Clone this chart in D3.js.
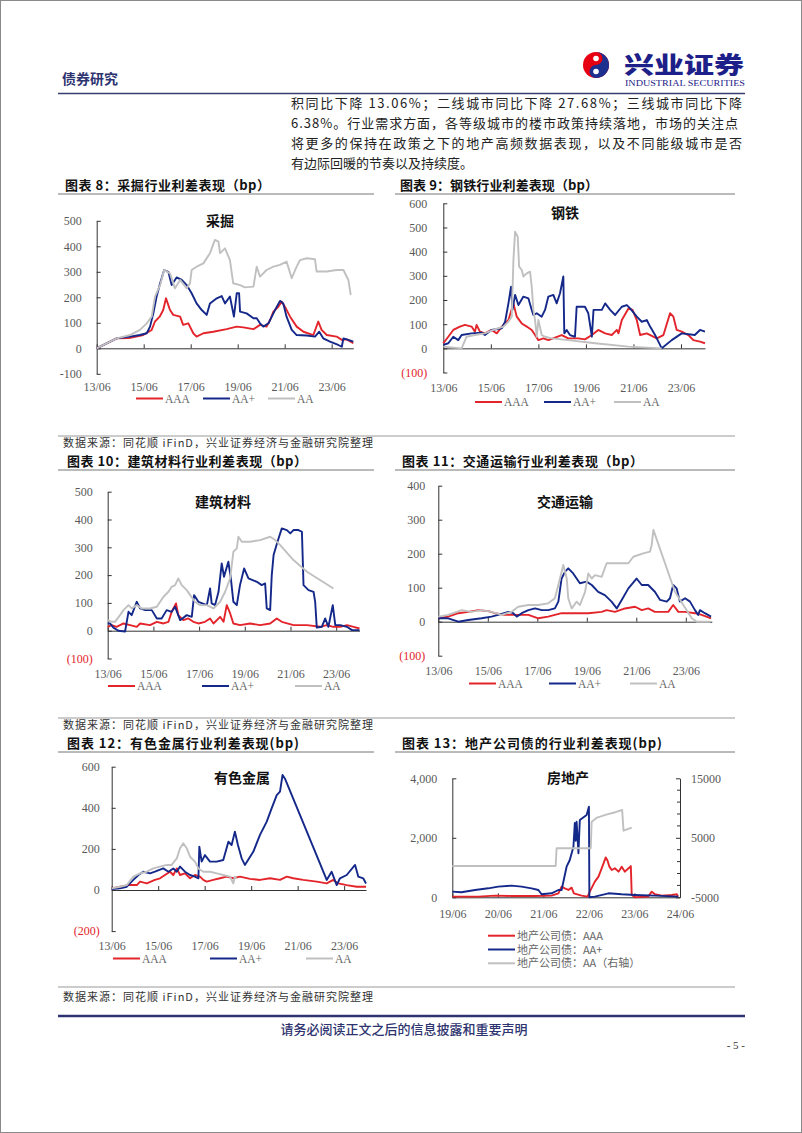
<!DOCTYPE html>
<html>
<head>
<meta charset="utf-8">
<script src="https://cdn.jsdelivr.net/npm/d3@7"></script>
<style>
  body { margin: 0; background: #fff; }
</style>
</head>
<body>
<script>
// ---- data: [decimal year, bp] ----
const xTicksA = [2013.42, 2015.42, 2017.42, 2019.42, 2021.42, 2023.42];
const xLabelsA = ["13/06", "15/06", "17/06", "19/06", "21/06", "23/06"];
const xTicksB = [2019.42, 2020.42, 2021.42, 2022.42, 2023.42, 2024.42];
const xLabelsB = ["19/06", "20/06", "21/06", "22/06", "23/06", "24/06"];
const seriesNames = ["AAA", "AA+", "AA"];
const seriesNames13 = ["地产公司债：AAA", "地产公司债：AA+", "地产公司债：AA（右轴）"];

// 采掘
const caijueAAA = [[2013.42,0],[2014.27,39],[2014.8,40],[2015.4,52],[2015.76,72],[2015.9,105],[2016.1,124],[2016.25,150],[2016.37,196],[2016.54,150],[2016.68,131],[2016.97,124],[2017.1,92],[2017.32,98],[2017.53,59],[2017.67,46],[2017.96,59],[2018.38,65],[2018.95,75],[2019.38,85],[2019.66,82],[2020.09,75],[2020.37,92],[2020.65,85],[2020.8,111],[2020.94,144],[2021.15,163],[2021.29,183],[2021.43,163],[2021.65,124],[2021.93,85],[2022.22,65],[2022.64,52],[2022.85,105],[2022.99,72],[2023.21,52],[2023.63,46],[2023.85,33],[2024.06,35],[2024.34,20]];
const caijueAAp = [[2013.42,0],[2014.27,39],[2014.84,46],[2015.26,52],[2015.55,59],[2015.69,85],[2015.83,137],[2015.97,203],[2016.12,255],[2016.29,307],[2016.47,300],[2016.61,248],[2016.82,278],[2017.04,268],[2017.25,248],[2017.46,216],[2017.67,176],[2017.89,150],[2018.1,131],[2018.24,176],[2018.53,196],[2018.74,205],[2018.88,176],[2019.09,203],[2019.26,124],[2019.38,216],[2019.48,216],[2019.52,144],[2019.8,137],[2020.09,118],[2020.23,118],[2020.37,98],[2020.51,85],[2020.73,98],[2020.87,124],[2021.01,150],[2021.22,186],[2021.36,176],[2021.5,124],[2021.72,72],[2021.93,52],[2022.36,50],[2022.71,46],[2022.89,65],[2023.06,39],[2023.35,26],[2023.7,13],[2023.85,6],[2023.92,39],[2024.13,33],[2024.34,26]];
const caijueAA = [[2013.42,0],[2014.27,39],[2014.84,52],[2015.26,72],[2015.55,98],[2015.76,124],[2015.9,203],[2016.12,248],[2016.29,307],[2016.54,294],[2016.75,235],[2016.97,268],[2017.25,235],[2017.39,255],[2017.46,307],[2017.67,320],[2017.96,333],[2018.24,373],[2018.45,425],[2018.6,418],[2018.67,373],[2018.88,392],[2019.09,346],[2019.23,255],[2019.52,248],[2019.73,239],[2020.09,242],[2020.23,320],[2020.37,281],[2020.65,307],[2020.94,320],[2021.22,327],[2021.5,340],[2021.72,275],[2021.93,320],[2022.07,346],[2022.36,353],[2022.71,349],[2022.78,301],[2023.21,301],[2023.63,307],[2023.92,307],[2024.13,268],[2024.23,209]];

// 钢铁
const gangtieAAA = [[2013.42,21],[2013.63,48],[2013.84,76],[2014.12,90],[2014.33,97],[2014.61,90],[2014.75,69],[2014.82,97],[2014.96,69],[2015.17,62],[2015.45,76],[2015.67,62],[2015.88,90],[2016.16,117],[2016.37,186],[2016.51,131],[2016.72,103],[2016.93,90],[2017.14,76],[2017.28,55],[2017.42,34],[2017.63,41],[2017.84,34],[2018.4,55],[2018.68,41],[2019.1,41],[2019.38,37],[2019.67,55],[2019.94,76],[2020.23,62],[2020.51,55],[2020.72,76],[2020.79,62],[2020.93,117],[2021.21,165],[2021.38,159],[2021.56,117],[2021.7,55],[2021.98,62],[2022.4,41],[2022.68,55],[2022.96,145],[2023.1,131],[2023.24,76],[2023.45,69],[2023.73,55],[2023.94,34],[2024.22,28],[2024.43,21]];
const gangtieAAp = [[2013.42,14],[2013.63,21],[2013.84,48],[2014.05,34],[2014.19,55],[2014.61,62],[2015.03,65],[2015.17,55],[2015.45,76],[2015.88,83],[2016.02,110],[2016.16,186],[2016.27,255],[2016.33,159],[2016.44,221],[2016.58,179],[2016.79,214],[2017.0,207],[2017.14,159],[2017.21,138],[2017.35,145],[2017.56,131],[2017.7,159],[2017.84,214],[2018.05,221],[2018.19,186],[2018.33,228],[2018.47,297],[2018.51,62],[2018.61,76],[2018.75,55],[2018.96,48],[2019.03,172],[2019.38,172],[2019.52,145],[2019.67,48],[2019.74,159],[2020.09,159],[2020.23,186],[2020.44,159],[2020.65,138],[2020.93,172],[2021.14,179],[2021.28,165],[2021.56,131],[2021.77,110],[2021.98,117],[2022.12,90],[2022.33,55],[2022.47,28],[2022.61,0],[2023.03,34],[2023.45,62],[2024.0,55],[2024.22,76],[2024.43,69]];
const gangtieAA = [[2013.42,7],[2014.19,0],[2014.4,48],[2014.75,55],[2015.17,62],[2015.6,79],[2015.95,90],[2016.16,110],[2016.3,131],[2016.37,365],[2016.44,483],[2016.55,462],[2016.61,338],[2016.72,324],[2016.79,297],[2016.93,310],[2017.07,317],[2017.14,255],[2017.21,159],[2017.28,117],[2017.35,48],[2017.42,117],[2017.56,55],[2017.7,48],[2017.98,41],[2018.4,37],[2019.81,21],[2021.21,7],[2022.61,0]];

// 建筑材料
const jiancaiAAA = [[2013.42,14],[2013.6,20],[2013.81,14],[2014.11,26],[2014.4,20],[2014.69,14],[2014.84,26],[2015.27,20],[2015.57,32],[2015.86,26],[2016.08,32],[2016.22,68],[2016.41,98],[2016.51,56],[2016.73,38],[2016.95,44],[2017.17,32],[2017.39,26],[2017.68,32],[2017.9,44],[2018.05,26],[2018.34,50],[2018.49,32],[2018.63,92],[2018.78,62],[2018.92,26],[2019.21,20],[2019.65,26],[2020.09,20],[2020.53,26],[2020.82,44],[2021.04,32],[2021.55,20],[2022.14,20],[2022.72,14],[2023.01,20],[2023.3,14],[2023.6,14],[2023.89,20],[2024.18,14],[2024.44,8]];
const jiancaiAAp = [[2013.42,26],[2013.52,26],[2013.67,11],[2013.89,0],[2014.18,-3],[2014.33,68],[2014.47,56],[2014.69,104],[2014.84,80],[2015.06,74],[2015.35,74],[2015.57,44],[2015.78,44],[2016.0,74],[2016.22,68],[2016.37,86],[2016.59,38],[2016.88,56],[2017.1,50],[2017.2,128],[2017.39,104],[2017.76,92],[2017.9,152],[2017.97,98],[2018.12,92],[2018.27,140],[2018.41,242],[2018.51,194],[2018.7,248],[2018.81,188],[2018.92,104],[2019.07,92],[2019.21,164],[2019.39,224],[2019.58,188],[2019.95,176],[2020.16,164],[2020.31,170],[2020.38,80],[2020.53,74],[2020.6,200],[2020.68,272],[2020.85,320],[2021.04,368],[2021.26,362],[2021.41,350],[2021.55,362],[2021.77,362],[2021.92,356],[2021.99,164],[2022.21,146],[2022.43,140],[2022.5,104],[2022.57,11],[2022.79,14],[2022.94,44],[2023.08,14],[2023.27,92],[2023.38,20],[2023.6,20],[2023.89,14],[2024.11,2],[2024.44,2]];
const jiancaiAA = [[2013.42,38],[2013.6,32],[2013.74,32],[2013.96,56],[2014.11,74],[2014.33,92],[2014.47,80],[2014.69,92],[2014.91,80],[2015.27,80],[2015.57,86],[2015.86,122],[2016.08,140],[2016.22,158],[2016.37,164],[2016.51,188],[2016.66,164],[2016.88,146],[2017.03,128],[2017.24,104],[2017.46,92],[2017.76,92],[2018.05,80],[2018.34,104],[2018.56,140],[2018.78,188],[2018.92,284],[2019.07,296],[2019.14,338],[2019.29,320],[2019.65,320],[2020.09,326],[2020.53,338],[2020.75,326],[2020.97,308],[2021.55,254],[2022.14,212],[2023.3,152]];

// 交通运输
const jiaotongAAA = [[2013.42,10],[2013.82,15],[2014.23,25],[2014.63,29],[2015.04,34],[2015.44,31],[2015.71,25],[2016.11,20],[2016.65,20],[2017.06,20],[2017.46,10],[2017.86,15],[2018.4,25],[2018.94,25],[2019.48,25],[2020.02,29],[2020.22,34],[2020.56,29],[2020.96,39],[2021.37,44],[2021.64,34],[2021.9,39],[2022.17,29],[2022.71,29],[2022.91,49],[2023.12,29],[2023.39,29],[2023.79,25],[2024.06,20],[2024.44,10]];
const jiaotongAAp = [[2013.42,10],[2013.82,10],[2014.23,0],[2014.63,5],[2015.17,10],[2015.57,15],[2015.84,20],[2016.25,29],[2016.45,25],[2016.59,15],[2016.79,25],[2017.06,34],[2017.33,39],[2017.6,34],[2017.86,34],[2018.13,39],[2018.27,59],[2018.4,127],[2018.54,147],[2018.67,157],[2018.87,142],[2019.14,113],[2019.41,118],[2019.62,108],[2019.88,88],[2020.15,78],[2020.42,59],[2020.63,39],[2020.83,64],[2021.1,98],[2021.43,127],[2021.64,108],[2021.9,108],[2022.17,88],[2022.38,64],[2022.65,59],[2022.78,69],[2022.91,108],[2023.05,98],[2023.18,59],[2023.39,69],[2023.59,59],[2023.79,34],[2023.92,20],[2023.99,34],[2024.19,25],[2024.44,15]];
const jiaotongAA = [[2013.42,15],[2013.82,20],[2014.36,34],[2014.77,29],[2015.17,34],[2015.57,29],[2015.98,20],[2016.38,29],[2016.65,44],[2017.06,49],[2017.46,49],[2017.86,54],[2018.13,69],[2018.27,108],[2018.47,167],[2018.61,127],[2018.67,69],[2018.81,39],[2019.01,59],[2019.14,49],[2019.35,88],[2019.48,142],[2019.62,127],[2019.75,137],[2020.02,132],[2020.22,172],[2020.69,172],[2021.1,172],[2021.3,191],[2021.7,201],[2021.97,206],[2022.04,225],[2022.11,270],[2022.98,88],[2023.66,10],[2023.86,0],[2024.4,0]];

// 有色金属
const youseAAA = [[2013.42,8],[2013.78,16],[2014.14,24],[2014.5,24],[2014.64,41],[2014.93,32],[2015.28,49],[2015.5,57],[2015.71,73],[2015.93,89],[2016.07,73],[2016.22,105],[2016.36,73],[2016.57,81],[2016.79,57],[2017.0,73],[2017.22,65],[2017.36,49],[2017.51,41],[2017.79,49],[2018.08,57],[2018.37,65],[2018.65,57],[2018.94,65],[2019.37,54],[2019.8,49],[2020.23,57],[2020.66,49],[2020.95,65],[2021.23,57],[2021.66,49],[2022.24,41],[2022.67,32],[2022.95,49],[2023.17,32],[2023.53,24],[2023.96,16],[2024.36,16]];
const youseAAp = [[2013.42,5],[2013.78,8],[2014.07,16],[2014.35,49],[2014.57,73],[2014.78,89],[2015.07,81],[2015.28,89],[2015.64,105],[2015.86,89],[2016.07,105],[2016.22,89],[2016.36,114],[2016.57,89],[2016.79,73],[2017.0,65],[2017.15,57],[2017.19,211],[2017.29,138],[2017.43,170],[2017.65,138],[2017.94,138],[2018.22,146],[2018.44,235],[2018.58,219],[2018.72,284],[2018.85,219],[2019.01,154],[2019.15,122],[2019.51,186],[2019.8,268],[2020.09,333],[2020.3,397],[2020.52,462],[2020.66,479],[2020.77,560],[2020.87,543],[2022.67,49],[2022.88,89],[2023.1,24],[2023.24,57],[2023.53,73],[2023.89,122],[2024.03,65],[2024.24,57],[2024.36,32]];
const youseAA = [[2013.42,8],[2013.78,16],[2014.07,24],[2014.35,65],[2014.64,81],[2014.93,89],[2015.21,105],[2015.5,114],[2015.79,122],[2016.0,122],[2016.22,154],[2016.36,203],[2016.5,227],[2016.65,203],[2016.79,162],[2017.0,138],[2017.15,105],[2017.36,89],[2017.65,89],[2017.94,81],[2018.22,73],[2018.51,65],[2018.65,32],[2018.72,65],[2018.78,57]];

// 房地产 (AA on right axis)
const dichanAAA = [[2019.42,22],[2019.99,22],[2020.36,56],[2020.72,45],[2021.24,45],[2021.6,56],[2021.75,134],[2021.82,358],[2021.89,302],[2021.97,246],[2022.04,325],[2022.09,134],[2022.26,56],[2022.39,22],[2022.44,190],[2022.55,526],[2022.63,694],[2022.7,974],[2022.79,1340],[2022.83,1230],[2022.87,1030],[2022.92,918],[2022.99,974],[2023.07,862],[2023.14,1030],[2023.21,862],[2023.29,974],[2023.34,1050],[2023.36,78],[2023.43,0],[2023.72,22],[2023.8,190],[2023.87,101],[2024.02,56],[2024.24,78],[2024.35,101],[2024.38,22]];
const dichanAAp = [[2019.42,190],[2019.62,168],[2019.92,246],[2020.21,302],[2020.43,358],[2020.72,392],[2020.94,358],[2021.16,302],[2021.31,246],[2021.38,101],[2021.6,134],[2021.75,246],[2021.82,246],[2021.93,1029],[2022.0,1254],[2022.08,1700],[2022.11,2497],[2022.13,1900],[2022.15,2541],[2022.19,1479],[2022.22,2598],[2022.37,2766],[2022.42,3045],[2022.43,0],[2022.55,22],[2022.85,134],[2023.14,101],[2023.43,78],[2023.87,56],[2024.38,22]];
const dichanAA = [[2019.42,261],[2021.69,261],[2021.71,3235],[2022.46,3235],[2022.48,7706],[2022.6,8400],[2022.8,8900],[2023.0,9300],[2023.15,9672],[2023.18,6193],[2023.36,6698]];

const yTicks8 = [-100, 0, 100, 200, 300, 400, 500];
const yLabels8 = ["-100", "0", "100", "200", "300", "400", "500"];
const yTicks9 = [-100, 0, 100, 200, 300, 400, 500, 600];
const yLabels9 = ["(100)", "0", "100", "200", "300", "400", "500", "600"];
const yTicks10 = [-100, 0, 100, 200, 300, 400, 500];
const yLabels10 = ["(100)", "0", "100", "200", "300", "400", "500"];
const yTicks11 = [-100, 0, 100, 200, 300, 400];
const yLabels11 = ["(100)", "0", "100", "200", "300", "400"];
const yTicks12 = [-200, 0, 200, 400, 600];
const yLabels12 = ["(200)", "0", "200", "400", "600"];
const yTicks13L = [0, 2000, 4000];
const yLabels13L = ["0", "2,000", "4,000"];
const yTicks13R = [-5000, 5000, 15000];
const yLabels13R = ["-5000", "5000", "15000"];
const yMinor13R = [-3000, -1000, 1000, 3000, 7000, 9000, 11000, 13000];

const paragraph = [
  "积同比下降 13.06%；二线城市同比下降 27.68%；三线城市同比下降",
  "6.38%。行业需求方面，各等级城市的楼市政策持续落地，市场的关注点",
  "将更多的保持在政策之下的地产高频数据表现，以及不同能级城市是否",
  "有边际回暖的节奏以及持续度。"
];

// ---- drawing ----
const RED = "#e3242b", NAVY = "#14288a", GRAY = "#c0c0c0";
const colors = [RED, NAVY, GRAY];
const CJK = "'Noto Sans CJK SC', sans-serif";
const SERIF = "'Liberation Serif', 'Times New Roman', serif";

const svg = d3.select("body").append("svg")
    .attr("width", 802)
    .attr("height", 1133)
    .style("display", "block");

svg.append("rect")
    .attr("x", 0.5).attr("y", 0.5)
    .attr("width", 801).attr("height", 1132)
    .attr("fill", "#fff").attr("stroke", "#8a8a8a");

// header
svg.append("text").attr("x", 62).attr("y", 84)
    .attr("font-family", CJK).attr("font-weight", 700).attr("font-size", 14)
    .attr("fill", "#2e3470").text("债券研究");

var logo = svg.append("g");
logo.append("circle").attr("cx", 596).attr("cy", 65).attr("r", 13).attr("fill", "#e60012");
logo.append("path")
    .attr("d", "M596,52 A13,13 0 0,1 596,78 A6.5,6.5 0 0,1 596,65 A6.5,6.5 0 0,0 596,52 Z")
    .attr("fill", "#1d2f8f");
logo.append("circle").attr("cx", 596).attr("cy", 58.5).attr("r", 2.8).attr("fill", "#fff");
logo.append("circle").attr("cx", 596).attr("cy", 71.5).attr("r", 2.8).attr("fill", "#fff");
logo.append("text").attr("x", 624).attr("y", 73)
    .attr("font-family", CJK).attr("font-weight", 900).attr("font-size", 23)
    .attr("textLength", 120).attr("lengthAdjust", "spacingAndGlyphs")
    .attr("fill", "#1d2088").text("兴业证券");
logo.append("text").attr("x", 625).attr("y", 86)
    .attr("font-family", SERIF).attr("font-size", 8.5)
    .attr("textLength", 120).attr("lengthAdjust", "spacingAndGlyphs")
    .attr("fill", "#1d2088").text("INDUSTRIAL SECURITIES");

svg.append("line").attr("x1", 58).attr("x2", 745).attr("y1", 93.5).attr("y2", 93.5)
    .attr("stroke", "#3a3d73").attr("stroke-width", 1.5);

paragraph.forEach(function(line, i) {
    var t = svg.append("text").attr("x", 291).attr("y", 108 + i * 20)
        .attr("font-family", CJK).attr("font-size", 13).attr("fill", "#222").text(line);
    if (i < 3) t.attr("textLength", i == 1 ? 447 : 451).attr("lengthAdjust", "spacing");
});

// figure captions, rules and sources
const captions = [
    {text: "图表 8：采掘行业利差表现（bp）", x: 65, y: 190, len: 205},
    {text: "图表 9：钢铁行业利差表现（bp）", x: 400, y: 190, len: 198},
    {text: "图表 10：建筑材料行业利差表现（bp）", x: 67, y: 466, len: 240},
    {text: "图表 11：交通运输行业利差表现（bp）", x: 402, y: 466, len: 241},
    {text: "图表 12：有色金属行业利差表现(bp)", x: 67, y: 748, len: 232},
    {text: "图表 13：地产公司债的行业利差表现(bp)", x: 402, y: 748, len: 260}
];
captions.forEach(function(c) {
    svg.append("text").attr("x", c.x).attr("y", c.y)
        .attr("font-family", CJK).attr("font-weight", 700).attr("font-size", 13)
        .attr("textLength", c.len).attr("lengthAdjust", "spacing")
        .attr("fill", "#111").text(c.text);
});
[194, 470, 752].forEach(function(yy) {
    svg.append("line").attr("x1", 58).attr("x2", 374).attr("y1", yy).attr("y2", yy)
        .attr("stroke", "#777").attr("stroke-width", 1);
    svg.append("line").attr("x1", 395).attr("x2", 735).attr("y1", yy).attr("y2", yy)
        .attr("stroke", "#777").attr("stroke-width", 1);
});
[[436, 447], [718, 729], [987, 1001]].forEach(function(p) {
    svg.append("line").attr("x1", 58).attr("x2", 735).attr("y1", p[0]).attr("y2", p[0])
        .attr("stroke", "#999").attr("stroke-width", 1);
    svg.append("text").attr("x", 63).attr("y", p[1])
        .attr("font-family", CJK).attr("font-size", 11).attr("fill", "#333")
        .attr("textLength", 310).attr("lengthAdjust", "spacing")
        .text("数据来源：同花顺 iFinD，兴业证券经济与金融研究院整理");
});

// footer
svg.append("line").attr("x1", 58).attr("x2", 745).attr("y1", 1016).attr("y2", 1016)
    .attr("stroke", "#2e3470").attr("stroke-width", 2.5);
svg.append("text").attr("x", 404).attr("y", 1034).attr("text-anchor", "middle")
    .attr("font-family", CJK).attr("font-weight", 500).attr("font-size", 13)
    .attr("fill", "#2e3470").text("请务必阅读正文之后的信息披露和重要声明");
svg.append("text").attr("x", 745).attr("y", 1049).attr("text-anchor", "end")
    .attr("font-family", SERIF).attr("font-size", 11).attr("fill", "#333").text("- 5 -");

function styleAxis(sel) {
    sel.select(".domain").attr("stroke", "#333");
    sel.selectAll(".tick line").attr("stroke", "#333");
    sel.selectAll(".tick text").attr("font-family", SERIF).attr("font-size", 12).attr("fill", "#595959");
}

function drawChart(c) {
    var g = svg.append("g");
    var x = d3.scaleLinear().domain(c.xDomain).range([c.left, c.right]);
    var y = d3.scaleLinear().domain(c.yDomain).range([c.bottom, c.top]);
    var y0 = y(0);

    var ya = g.append("g").attr("transform", "translate(" + c.left + ",0)")
        .call(d3.axisLeft(y).tickValues(c.yTicks)
            .tickFormat(d => c.yLabels[c.yTicks.indexOf(d)])
            .tickSize(-4).tickSizeOuter(0).tickPadding(c.yPad));
    styleAxis(ya);
    ya.selectAll(".tick text").attr("fill", d => (d < 0 && c.redNeg) ? RED : "#595959");

    var xa = g.append("g").attr("transform", "translate(0," + y0 + ")")
        .call(d3.axisBottom(x).tickValues(c.xTicks)
            .tickFormat(d => c.xLabels[c.xTicks.indexOf(d)])
            .tickSize(-4).tickSizeOuter(0));
    styleAxis(xa);
    xa.selectAll(".tick text").attr("y", c.xLabelY - y0).attr("dy", "0.3em");

    var yR = null;
    if (c.yDomainR) {
        yR = d3.scaleLinear().domain(c.yDomainR).range([c.bottom, c.top]);
        var ra = g.append("g").attr("transform", "translate(" + c.right + ",0)")
            .call(d3.axisRight(yR).tickValues(c.yTicksR)
                .tickFormat(d => c.yLabelsR[c.yTicksR.indexOf(d)])
                .tickSize(-4).tickSizeOuter(0).tickPadding(11));
        styleAxis(ra);
        g.selectAll(".minor").data(c.yMinorR).enter().append("line")
            .attr("x1", c.right - 3).attr("x2", c.right)
            .attr("y1", d => yR(d)).attr("y2", d => yR(d))
            .attr("stroke", "#333");
    }

    c.series.forEach(function(s, i) {
        var sy = (c.rightIndex === i) ? yR : y;
        var line = d3.line().x(d => x(d[0])).y(d => sy(d[1]));
        g.append("path").datum(s).attr("d", line)
            .attr("fill", "none").attr("stroke", colors[i])
            .attr("stroke-width", 1.9).attr("stroke-linejoin", "round");
    });

    g.append("text").attr("x", c.nameX).attr("y", c.nameY).attr("dy", "0.35em")
        .attr("text-anchor", "middle").attr("font-family", CJK)
        .attr("font-weight", 700).attr("font-size", 14).attr("fill", "#111")
        .text(c.name);

    c.legend.forEach(function(L, i) {
        g.append("line").attr("x1", L[0]).attr("x2", L[0] + 27)
            .attr("y1", L[1]).attr("y2", L[1])
            .attr("stroke", colors[i]).attr("stroke-width", 2);
        g.append("text").attr("x", L[0] + 29).attr("y", L[1]).attr("dy", "0.38em")
            .attr("font-family", c.legendFont).attr("font-size", c.legendSize)
            .attr("fill", "#666").text(c.legendNames[i]);
    });
}

const charts = [
    {name: "采掘", nameX: 220, nameY: 221, left: 96.7, right: 353.3, top: 220.8, bottom: 373.8,
     xDomain: [2013.42, 2024.34], yDomain: [-100, 500], yTicks: yTicks8, yLabels: yLabels8, yPad: 15,
     xTicks: xTicksA, xLabels: xLabelsA, xLabelY: 387.5, redNeg: false,
     series: [caijueAAA, caijueAAp, caijueAA],
     legend: [[136, 398.5], [203, 398.5], [268, 398.5]], legendNames: seriesNames, legendFont: SERIF, legendSize: 11.5},
    {name: "钢铁", nameX: 565, nameY: 213, left: 443.3, right: 705, top: 203.3, bottom: 372.5,
     xDomain: [2013.42, 2024.43], yDomain: [-100, 600], yTicks: yTicks9, yLabels: yLabels9, yPad: 16,
     xTicks: xTicksA, xLabels: xLabelsA, xLabelY: 388.5, redNeg: true,
     series: [gangtieAAA, gangtieAAp, gangtieAA],
     legend: [[475, 402], [544, 402], [614, 402]], legendNames: seriesNames, legendFont: SERIF, legendSize: 11.5},
    {name: "建筑材料", nameX: 223, nameY: 502, left: 107.7, right: 359.5, top: 491.7, bottom: 658.5,
     xDomain: [2013.42, 2024.44], yDomain: [-100, 500], yTicks: yTicks10, yLabels: yLabels10, yPad: 15,
     xTicks: xTicksA, xLabels: xLabelsA, xLabelY: 674.5, redNeg: true,
     series: [jiancaiAAA, jiancaiAAp, jiancaiAA],
     legend: [[108, 686], [202, 686], [295, 686]], legendNames: seriesNames, legendFont: SERIF, legendSize: 11.5},
    {name: "交通运输", nameX: 565, nameY: 502, left: 438.3, right: 711.8, top: 485.7, bottom: 655.7,
     xDomain: [2013.42, 2024.47], yDomain: [-100, 400], yTicks: yTicks11, yLabels: yLabels11, yPad: 13,
     xTicks: xTicksA, xLabels: xLabelsA, xLabelY: 671.5, redNeg: true,
     series: [jiaotongAAA, jiaotongAAp, jiaotongAA],
     legend: [[469, 683.5], [549, 683.5], [630, 683.5]], legendNames: seriesNames, legendFont: SERIF, legendSize: 11.5},
    {name: "有色金属", nameX: 242, nameY: 778, left: 111.7, right: 366, top: 766.7, bottom: 931.1,
     xDomain: [2013.42, 2024.36], yDomain: [-200, 600], yTicks: yTicks12, yLabels: yLabels12, yPad: 12,
     xTicks: xTicksA, xLabels: xLabelsA, xLabelY: 946.5, redNeg: true,
     series: [youseAAA, youseAAp, youseAA],
     legend: [[113, 958.5], [210, 958.5], [306, 958.5]], legendNames: seriesNames, legendFont: SERIF, legendSize: 11.5},
    {name: "房地产", nameX: 568, nameY: 778, left: 452.3, right: 680, top: 778.3, bottom: 897.3,
     xDomain: [2019.42, 2024.42], yDomain: [0, 4000], yTicks: yTicks13L, yLabels: yLabels13L, yPad: 15,
     yDomainR: [-5000, 15000], yTicksR: yTicks13R, yLabelsR: yLabels13R, yMinorR: yMinor13R, rightIndex: 2,
     xTicks: xTicksB, xLabels: xLabelsB, xLabelY: 914, redNeg: false,
     series: [dichanAAA, dichanAAp, dichanAA],
     legend: [[488, 935.7], [488, 949.5], [488, 963.3]], legendNames: seriesNames13, legendFont: CJK, legendSize: 11}
];

charts.forEach(drawChart);
</script>
</body>
</html>
